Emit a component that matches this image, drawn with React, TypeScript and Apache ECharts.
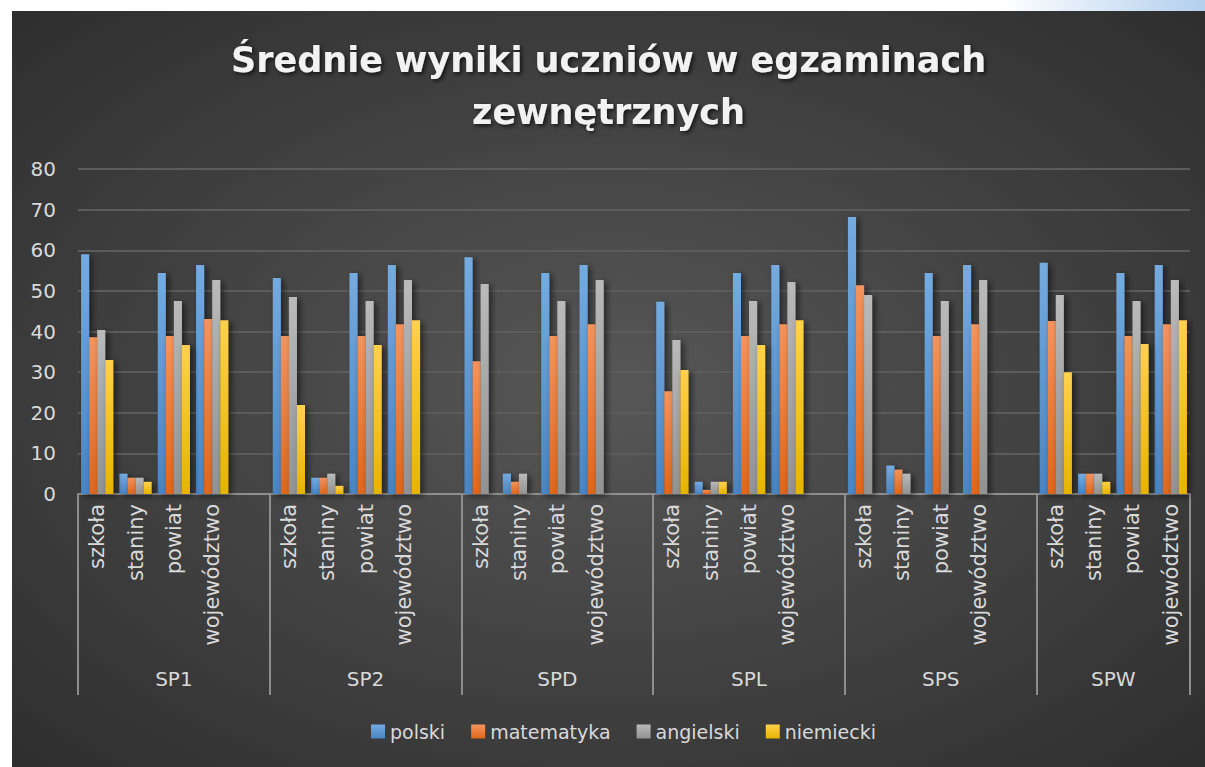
import React, { useEffect, useRef } from "react";
import * as echarts from "echarts";

// ---------- data ----------
const titleText = "Średnie wyniki uczniów w egzaminach\nzewnętrznych";
const groups = ["SP1", "SP2", "SPD", "SPL", "SPS", "SPW"];
const subCategories = ["szkoła", "staniny", "powiat", "województwo"];
const seriesNames = ["polski", "matematyka", "angielski", "niemiecki"];

// values per group: [szkoła, staniny, powiat, województwo]
const polski = [
  59.0, 5, 54.4, 56.4,
  53.2, 4, 54.4, 56.4,
  58.3, 5, 54.4, 56.4,
  47.3, 3, 54.4, 56.4,
  68.2, 7, 54.4, 56.4,
  56.9, 5, 54.4, 56.4,
];
const matematyka = [
  38.6, 4, 38.9, 43.1,
  38.9, 4, 38.9, 41.8,
  32.7, 3, 38.9, 41.8,
  25.3, 1, 38.9, 41.8,
  51.4, 6, 38.9, 41.8,
  42.6, 5, 38.9, 41.8,
];
const angielski = [
  40.4, 4, 47.5, 52.7,
  48.5, 5, 47.5, 52.7,
  51.7, 5, 47.5, 52.7,
  37.9, 3, 47.5, 52.2,
  49.0, 5, 47.5, 52.7,
  49.0, 5, 47.5, 52.7,
];
const niemiecki = [
  33.0, 3, 36.7, 42.8,
  21.9, 2, 36.7, 42.8,
  null, null, null, null,
  30.5, 3, 36.7, 42.8,
  null, null, null, null,
  30.0, 3, 36.9, 42.8,
];
const yMin = 0;
const yMax = 80;
const yInterval = 10;

// ---------- styles ----------
const seriesGradients = [
  ["#74abe0", "#4885c4"],
  ["#f5945d", "#e0661a"],
  ["#bababa", "#929292"],
  ["#ffd04d", "#e6b400"],
];
const FONT = "'DejaVu Sans', 'Open Sans', sans-serif";
const LABEL_COLOR = "#d9d9d9";
const AXIS_COLOR = "#8e8e8e";

// Build category list with an empty slot between groups (as in the source sheet)
const categories: string[] = [];
const groupStarts: number[] = [];
const groupSizes: number[] = [];
groups.forEach((g, gi) => {
  groupStarts.push(categories.length);
  subCategories.forEach((s) => categories.push(s));
  if (gi < groups.length - 1) categories.push("");
  groupSizes.push(categories.length - groupStarts[gi]);
});
const total = categories.length;
const boundaries = [...groupStarts, total];
const groupCenters = groupStarts.map((s, i) => s + groupSizes[i] / 2);

function expand(vals: (number | null)[]): (number | null)[] {
  const out: (number | null)[] = [];
  groups.forEach((_, gi) => {
    subCategories.forEach((_, si) => out.push(vals[gi * subCategories.length + si]));
    if (gi < groups.length - 1) out.push(null);
  });
  return out;
}
const seriesValues = [polski, matematyka, angielski, niemiecki];

export default function App() {
  const ref = useRef<HTMLDivElement>(null);
  useEffect(() => {
    if (!ref.current) return;
    const chart = echarts.init(ref.current, undefined, { renderer: "svg" });
    chart.setOption({
      animation: false,
      backgroundColor: {
        type: "radial",
        x: 0.5,
        y: 0.5,
        r: 0.85,
        colorStops: [
          { offset: 0, color: "#575757" },
          { offset: 1, color: "#262626" },
        ],
      },
      title: {
        text: titleText,
        left: "center",
        top: 18,
        textStyle: {
          color: "#f2f2f2",
          fontFamily: FONT,
          fontWeight: "bold",
          fontSize: 35,
          lineHeight: 52,
          textShadowColor: "rgba(0,0,0,0.7)",
          textShadowBlur: 4,
          textShadowOffsetX: 2,
          textShadowOffsetY: 2,
        },
      },
      legend: {
        data: seriesNames,
        left: 354,
        top: 706,
        itemWidth: 14,
        itemHeight: 14,
        itemGap: 26,
        icon: "rect",
        textStyle: { color: LABEL_COLOR, fontFamily: FONT, fontSize: 19 },
      },
      grid: { left: 66, right: 15, top: 158, bottom: 273, containLabel: false },
      xAxis: [
        {
          type: "category",
          data: categories,
          position: "bottom",
          axisLine: { show: true, lineStyle: { color: AXIS_COLOR, width: 2 } },
          axisTick: { show: false },
          axisLabel: {
            interval: 0,
            rotate: 90,
            margin: 10,
            color: LABEL_COLOR,
            fontFamily: FONT,
            fontSize: 21,
          },
          splitLine: { show: false },
        },
        {
          type: "value",
          position: "bottom",
          min: 0,
          max: total,
          offset: 0,
          axisLine: { show: false },
          axisTick: {
            show: true,
            customValues: boundaries,
            length: 201,
            lineStyle: { color: AXIS_COLOR, width: 2 },
          },
          axisLabel: {
            show: true,
            customValues: groupCenters,
            margin: 175,
            color: LABEL_COLOR,
            fontFamily: FONT,
            fontSize: 20,
            formatter: (v: number) => {
              const i = groupCenters.indexOf(v);
              return i >= 0 ? groups[i] : "";
            },
          },
          splitLine: { show: false },
        },
      ],
      yAxis: {
        type: "value",
        min: yMin,
        max: yMax,
        interval: yInterval,
        axisLine: { show: false },
        axisTick: { show: false },
        axisLabel: { color: LABEL_COLOR, fontFamily: FONT, fontSize: 20, margin: 22 },
        splitLine: { lineStyle: { color: "#5c5c5c", width: 2 } },
      },
      series: seriesNames.map((name, i) => ({
        name,
        type: "bar",
        xAxisIndex: 0,
        data: expand(seriesValues[i]),
        barGap: "0%",
        barCategoryGap: "16%",
        itemStyle: {
          color: {
            type: "linear",
            x: 0,
            y: 0,
            x2: 0,
            y2: 1,
            colorStops: [
              { offset: 0, color: seriesGradients[i][0] },
              { offset: 1, color: seriesGradients[i][1] },
            ],
          },
          shadowColor: "rgba(0,0,0,0.55)",
          shadowBlur: 6,
          shadowOffsetX: 3,
          shadowOffsetY: 2,
        },
      })),
    });
    return () => chart.dispose();
  }, []);

  return (
    <div
      style={{
        position: "absolute",
        left: 0,
        top: 0,
        width: 1205,
        height: 767,
        background: "#ffffff",
        overflow: "hidden",
      }}
    >
      <div
        style={{
          position: "absolute",
          left: 1000,
          top: 0,
          width: 205,
          height: 11,
          background: "linear-gradient(to right, #ffffff, #b3cfee)",
        }}
      />
      <div
        ref={ref}
        style={{ position: "absolute", left: 12, top: 11, width: 1193, height: 756 }}
      />
    </div>
  );
}
